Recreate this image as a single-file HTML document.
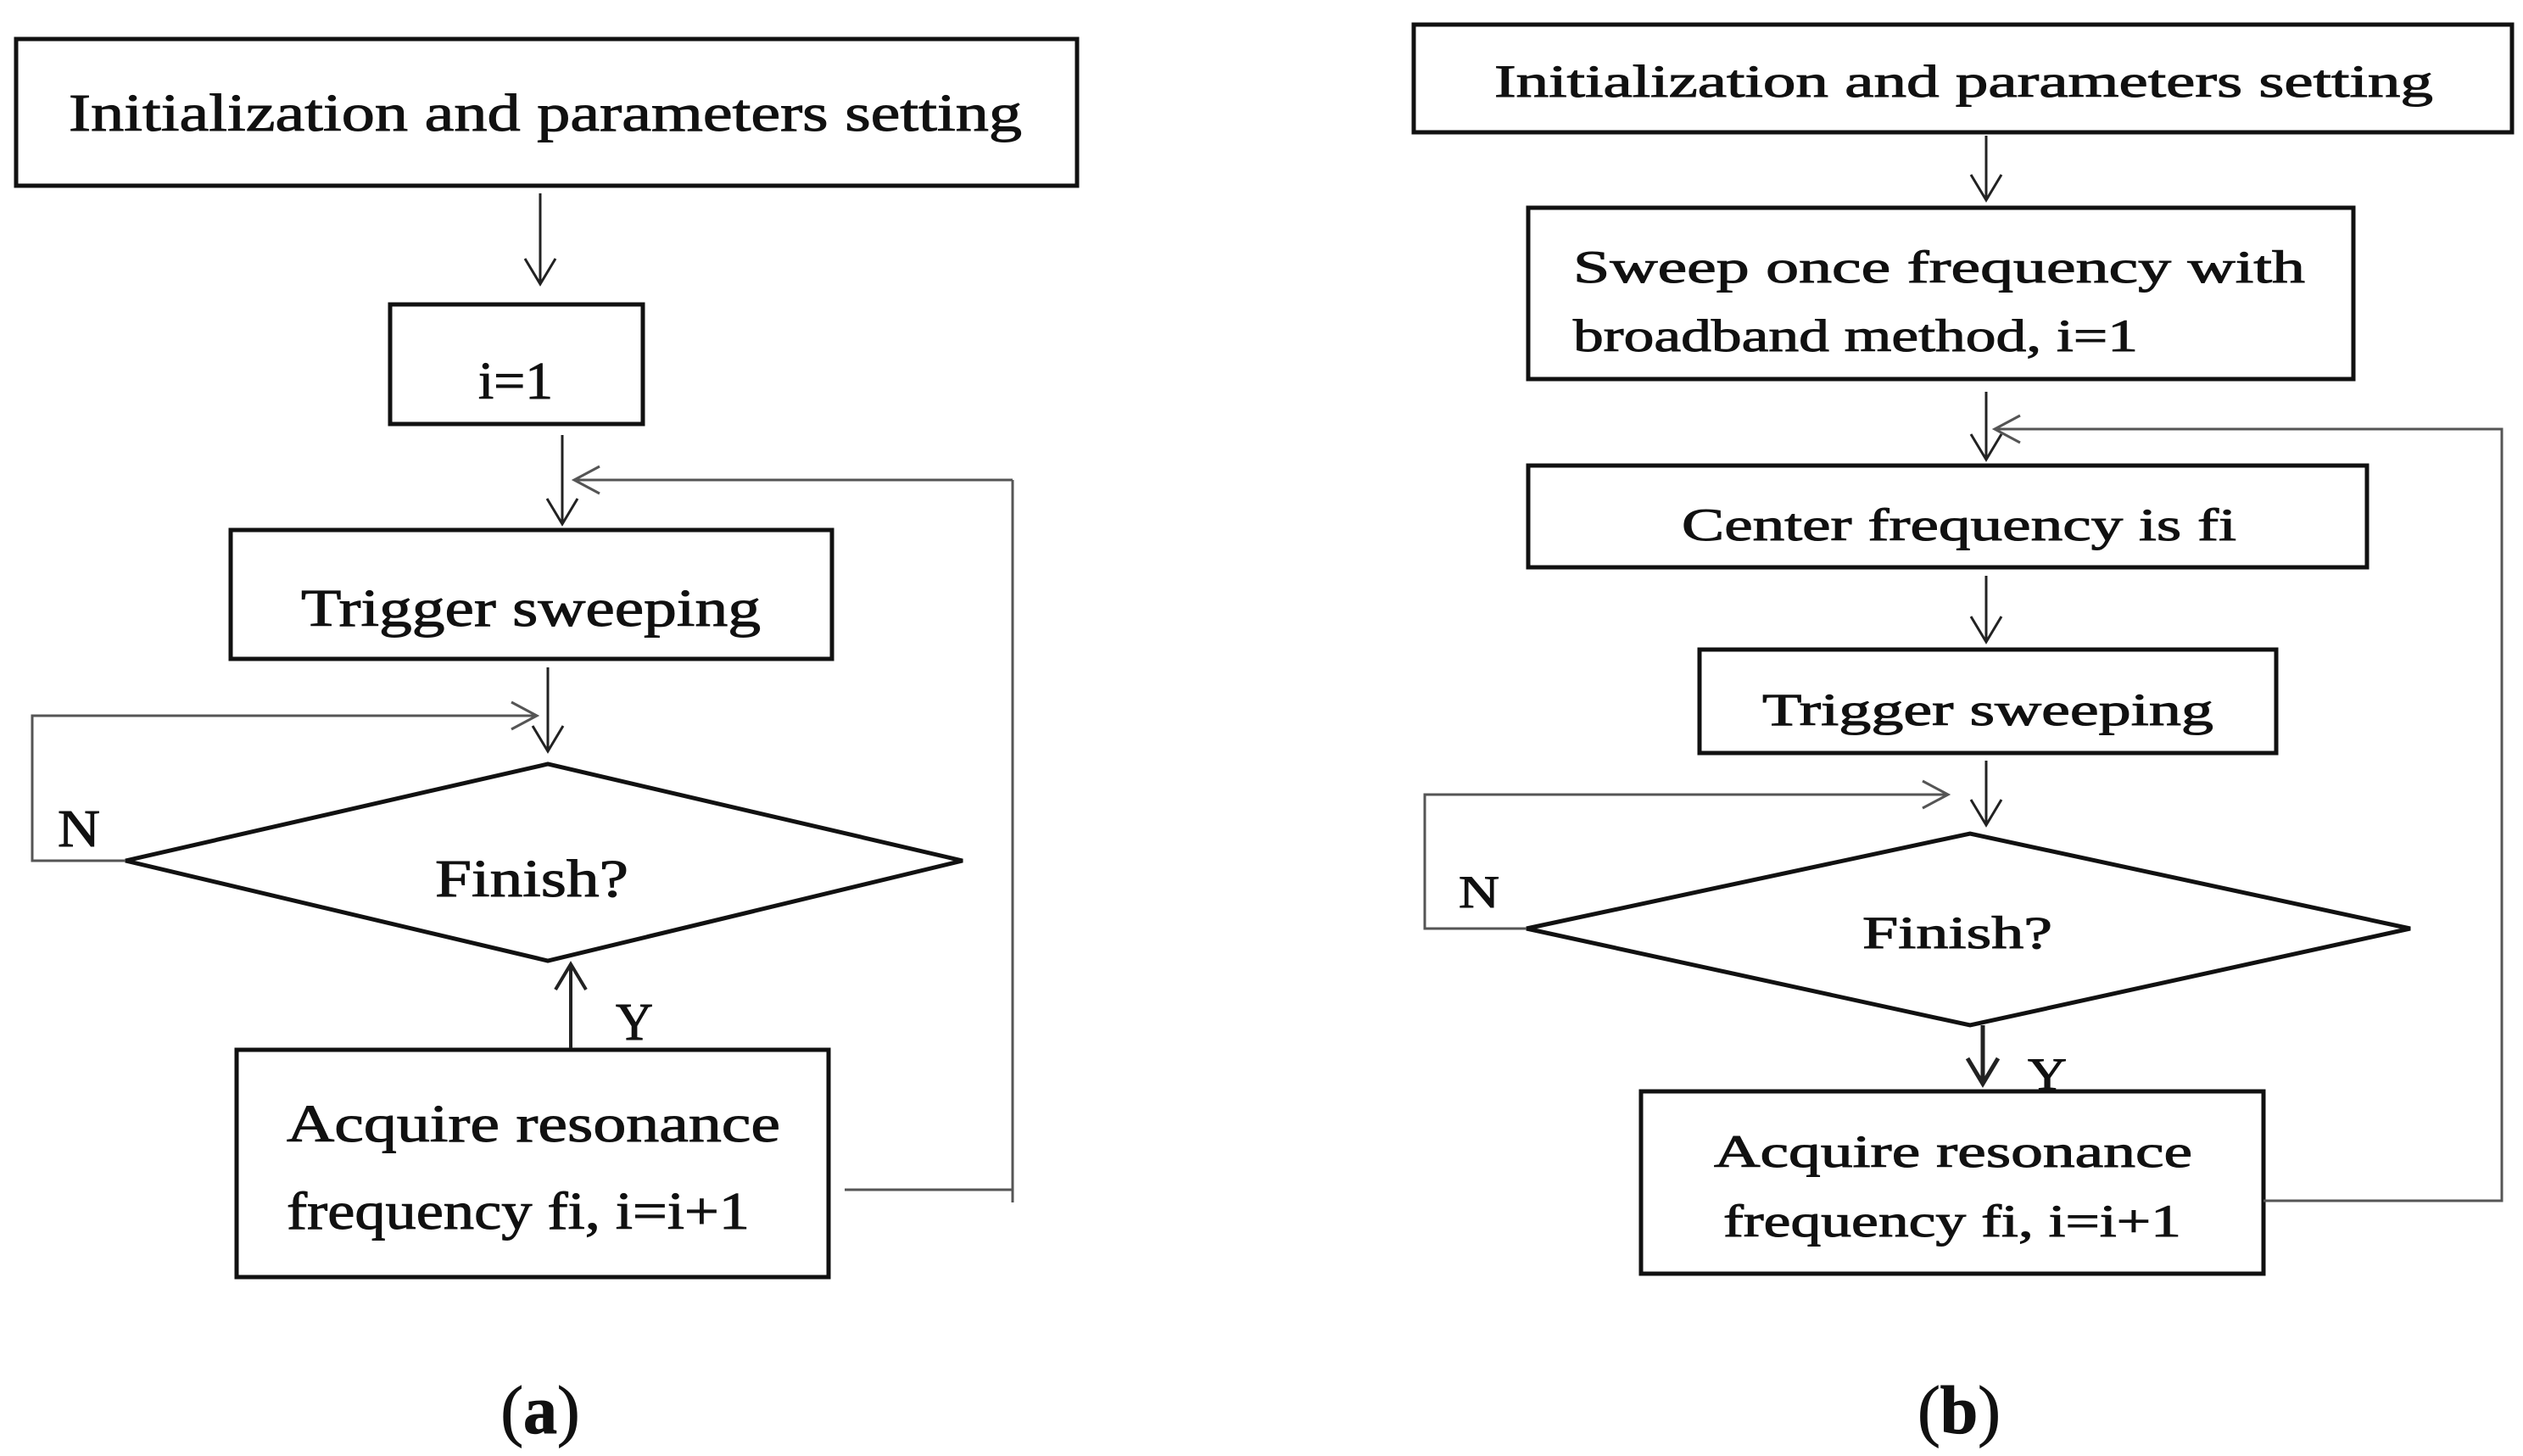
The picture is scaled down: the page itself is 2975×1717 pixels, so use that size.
<!DOCTYPE html>
<html><head><meta charset="utf-8"><style>html,body{margin:0;padding:0;background:#fff}svg{display:block}text{font-family:"Liberation Serif",serif;fill:#111;stroke:#111;stroke-width:1}</style></head>
<body>
<svg width="2975" height="1717" viewBox="0 0 2975 1717" xmlns="http://www.w3.org/2000/svg">
<g fill="none" stroke="#111" stroke-width="5">
<rect x="19" y="46" width="1251" height="173"/>
<rect x="460" y="359" width="298" height="141"/>
<rect x="272" y="625" width="709" height="152"/>
<polygon points="148,1015 646,901 1135,1015 646,1133"/>
<rect x="279" y="1238" width="698" height="268"/>
<rect x="1667" y="29" width="1295" height="127"/>
<rect x="1802" y="245" width="973" height="202"/>
<rect x="1802" y="549" width="989" height="120"/>
<rect x="2004" y="766" width="680" height="122"/>
<polygon points="1800,1095 2323,983 2842,1095 2323,1209"/>
<rect x="1935" y="1287" width="734" height="215"/>
</g>
<g fill="none" stroke="#222" stroke-width="3">
<path d="M637 228V335M619 305L637 335L655 305"/>
<path d="M663 513V618M645 588L663 618L681 588"/>
<path d="M646 787V886M628 856L646 886L664 856"/>
<path d="M996 1403H1194M1194 566V1418M1194 566H677M707 550L677 566L707 582" stroke="#555"/>
<path d="M148 1015H38V844H633M603 828L633 844L603 860" stroke="#555"/>
<path d="M673 1236V1137M655 1167L673 1137L691 1167" stroke-width="4"/>
<path d="M2342 160V236M2324 206L2342 236L2360 206"/>
<path d="M2342 462V542M2324 512L2342 542L2360 512"/>
<path d="M2342 679V757M2324 727L2342 757L2360 727"/>
<path d="M2342 897V973M2324 943L2342 973L2360 943"/>
<path d="M1800 1095H1680V937H2297M2267 921L2297 937L2267 953" stroke="#555"/>
<path d="M2669 1416H2950V506H2352M2382 490L2352 506L2382 522" stroke="#555"/>
<path d="M2338 1209V1278M2320 1248L2338 1278L2356 1248" stroke-width="5"/>
</g>
<g font-size="62">
<text x="81" y="154" textLength="1124" lengthAdjust="spacingAndGlyphs">Initialization and parameters setting</text>
<text x="564" y="470" textLength="88" lengthAdjust="spacingAndGlyphs">i=1</text>
<text x="355" y="738" textLength="542" lengthAdjust="spacingAndGlyphs">Trigger sweeping</text>
<text x="513" y="1057" textLength="228" lengthAdjust="spacingAndGlyphs">Finish?</text>
<text x="68" y="998" textLength="50" lengthAdjust="spacingAndGlyphs">N</text>
<text x="726" y="1226" textLength="44" lengthAdjust="spacingAndGlyphs">Y</text>
<text x="338" y="1346" textLength="582" lengthAdjust="spacingAndGlyphs">Acquire  resonance</text>
<text x="338" y="1449" textLength="546" lengthAdjust="spacingAndGlyphs">frequency fi, i=i+1</text>
</g>
<g font-size="54">
<text x="1762" y="114" textLength="1107" lengthAdjust="spacingAndGlyphs">Initialization and parameters setting</text>
<text x="1855" y="333" textLength="863" lengthAdjust="spacingAndGlyphs">Sweep once frequency with</text>
<text x="1855" y="414" textLength="666" lengthAdjust="spacingAndGlyphs">broadband method, i=1</text>
<text x="1983" y="637" textLength="654" lengthAdjust="spacingAndGlyphs">Center frequency is fi</text>
<text x="2078" y="855" textLength="532" lengthAdjust="spacingAndGlyphs">Trigger sweeping</text>
<text x="2196" y="1118" textLength="224" lengthAdjust="spacingAndGlyphs">Finish?</text>
<text x="1720" y="1070" textLength="48" lengthAdjust="spacingAndGlyphs">N</text>
<text x="2391" y="1285" textLength="46" lengthAdjust="spacingAndGlyphs">Y</text>
<text x="2021" y="1376" textLength="564" lengthAdjust="spacingAndGlyphs">Acquire resonance</text>
<text x="2032" y="1458" textLength="540" lengthAdjust="spacingAndGlyphs">frequency fi, i=i+1</text>
</g>
<g font-size="80" text-anchor="middle">
<text x="637" y="1690">(<tspan font-weight="bold">a</tspan>)</text>
<text x="2310" y="1690">(<tspan font-weight="bold">b</tspan>)</text>
</g>
</svg>
</body></html>
